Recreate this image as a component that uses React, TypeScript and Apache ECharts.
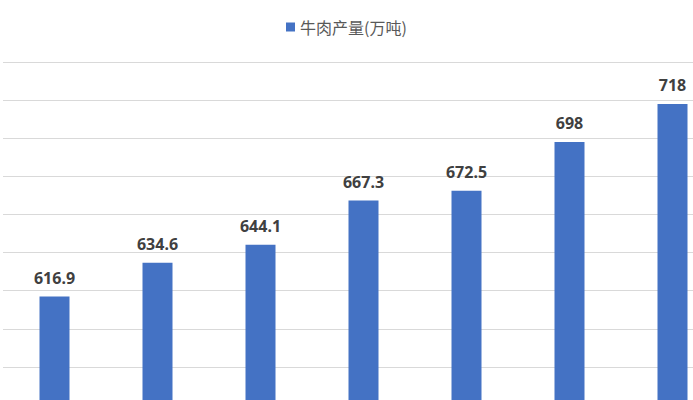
import React, { useEffect, useRef } from "react";
import * as echarts from "echarts";

const categories = ["1", "2", "3", "4", "5", "6", "7"];
const beefOutput = [616.9, 634.6, 644.1, 667.3, 672.5, 698, 718];
const seriesName = "牛肉产量(万吨)";
const yMin = 560;
const yMax = 740;
const yStep = 20;

export default function App() {
  const ref = useRef<HTMLDivElement>(null);
  useEffect(() => {
    if (!ref.current) return;
    const chart = echarts.init(ref.current, null, { renderer: "svg" });
    chart.setOption({
      animation: false,
      backgroundColor: "#ffffff",
      legend: {
        data: [seriesName],
        left: 281,
        top: 14,
        icon: "rect",
        itemWidth: 9,
        itemHeight: 9,
        itemGap: 5,
        textStyle: {
          fontSize: 16,
          color: "#595959",
          fontFamily: "'Noto Sans CJK SC', 'Noto Sans', sans-serif",
        },
      },
      grid: { left: 3, width: 721, top: 62, height: 343, containLabel: false },
      xAxis: {
        type: "category",
        data: categories,
        axisLabel: { show: false },
        axisTick: { show: false },
        axisLine: { show: false },
      },
      yAxis: {
        type: "value",
        min: yMin,
        max: yMax,
        interval: yStep,
        axisLabel: { show: false },
        axisLine: { show: false },
        axisTick: { show: false },
        splitLine: { lineStyle: { color: "#d9d9d9", width: 1 } },
      },
      series: [
        {
          name: seriesName,
          type: "bar",
          data: beefOutput,
          barWidth: 30,
          itemStyle: { color: "#4472c4" },
          label: {
            show: true,
            position: "top",
            distance: 11,
            fontSize: 16,
            fontWeight: "bold",
            color: "#404040",
            fontFamily: "'Noto Sans', sans-serif",
          },
        },
      ],
    });
    return () => chart.dispose();
  }, []);
  return (
    <div
      style={{
        position: "fixed",
        left: 0,
        top: 0,
        width: 693,
        height: 400,
        overflow: "hidden",
        background: "#ffffff",
      }}
    >
      <div ref={ref} style={{ width: 740, height: 420 }} />
    </div>
  );
}
